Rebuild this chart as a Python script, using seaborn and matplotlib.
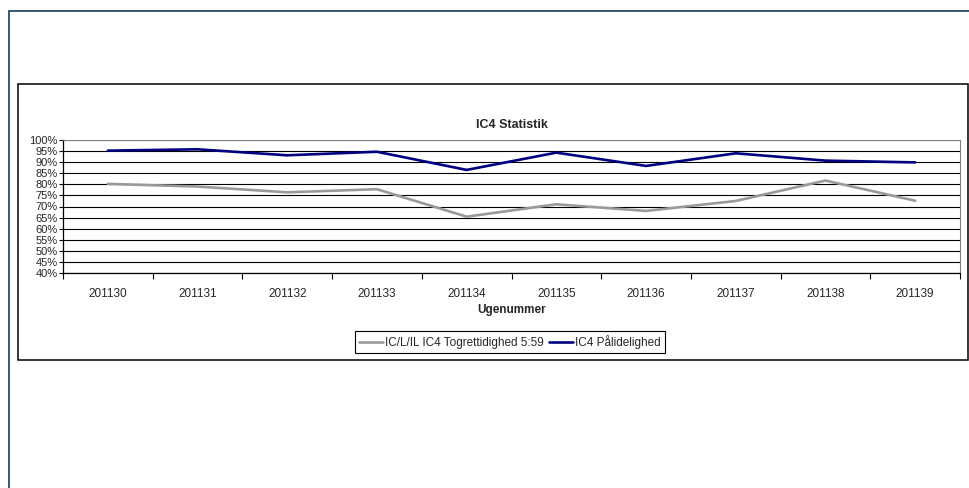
import numpy as np
import matplotlib
matplotlib.use("Agg")
import matplotlib.pyplot as plt
import pandas as pd
import seaborn as sns
from matplotlib.lines import Line2D
from matplotlib.patches import Rectangle
from matplotlib.ticker import MultipleLocator, FuncFormatter

weeks = ['201130', '201131', '201132', '201133', '201134',
         '201135', '201136', '201137', '201138', '201139']
togrettidighed = [80.2, 79.0, 76.4, 77.8, 65.4, 71.0, 68.0, 72.5, 81.7, 72.6]
paalidelighed = [95.2, 95.8, 93.1, 94.7, 86.5, 94.3, 88.3, 94.0, 90.7, 89.9]
series_names = ['IC/L/IL IC4 Togrettidighed 5:59', 'IC4 Pålidelighed']

sns.set_style('white')
plt.rcParams['font.family'] = ['Liberation Sans', 'DejaVu Sans']

df = pd.DataFrame({
    'Ugenummer': weeks * 2,
    'value': togrettidighed + paalidelighed,
    'serie': [series_names[0]] * len(weeks) + [series_names[1]] * len(weeks),
})

fig = plt.figure(figsize=(9.7, 4.88), dpi=100)
W, H = 970, 488

# page frame lines
fig.add_artist(Line2D([9 / W, 1], [1 - 11 / H, 1 - 11 / H], color='#2b4a66', lw=1.3))
fig.add_artist(Line2D([9 / W, 9 / W], [0, 1 - 11 / H], color='#2b4a66', lw=1.3))
# chart box
fig.add_artist(Rectangle((18 / W, 1 - 360 / H), (968 - 18) / W, (360 - 84) / H,
                         fill=False, edgecolor='black', lw=1.1))

ax = fig.add_axes([63 / W, 1 - 273 / H, (960 - 63) / W, (273 - 140) / H])
sns.lineplot(data=df, x='Ugenummer', y='value', hue='serie',
             palette=['#999999', '#000080'], linewidth=1.9, ax=ax, sort=False)

ax.set_xlim(-0.5, len(weeks) - 0.5)
ax.set_ylim(40, 100)
ax.yaxis.set_major_locator(MultipleLocator(5))
ax.yaxis.set_major_formatter(FuncFormatter(lambda v, p: f'{v:.0f}%'))
ax.grid(axis='y', color='black', linewidth=0.8)
ax.set_axisbelow(True)
ax.set_xticks(range(len(weeks)))
ax.set_xticklabels(weeks)
ax.set_xticks(np.arange(-0.5, len(weeks), 1.0), minor=True)
ax.tick_params(axis='x', which='both', bottom=True)
ax.tick_params(axis='x', which='major', length=0, pad=11, labelsize=8.5)
ax.tick_params(axis='x', which='minor', length=4, width=0.8, direction='out', color='black')
ax.tick_params(axis='y', left=True, length=3, width=0.8, direction='out', labelsize=8, pad=1, color='black')
for side in ['top', 'right']:
    ax.spines[side].set_color('#808080')
    ax.spines[side].set_linewidth(0.8)
for side in ['left', 'bottom']:
    ax.spines[side].set_color('black')
    ax.spines[side].set_linewidth(0.9)

ax.set_xlabel('Ugenummer', fontsize=8.5, fontweight='bold', labelpad=3)
ax.set_ylabel('')
ax.set_title('IC4 Statistik', fontsize=9, fontweight='bold', pad=9)

ax.legend_.remove()
handles, labels = ax.get_legend_handles_labels()
fig.legend(handles, labels, loc='center', bbox_to_anchor=(510 / W, 1 - 342 / H),
           ncol=2, fontsize=8.5, frameon=True, fancybox=False, edgecolor='black',
           framealpha=1, handlelength=2.0, handletextpad=0.2, columnspacing=0.4,
           borderpad=0.35, borderaxespad=0)
fig.legends[0].get_frame().set_linewidth(0.8)

fig.savefig('out.png', dpi=100)
